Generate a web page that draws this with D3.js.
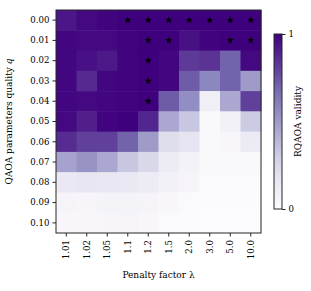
<!DOCTYPE html>
<html>
<head>
<meta charset="utf-8">
<script src="https://cdn.jsdelivr.net/npm/d3@7"></script>
<style>
  body { margin: 0; background: #fff; }
  svg text { font-family: "DejaVu Serif", serif; fill: #000; }
</style>
</head>
<body>
<svg width="311" height="291"></svg>
<script>
// penalty factors (columns) and parameter quality (rows)
const lambdas = ["1.01", "1.02", "1.05", "1.1", "1.2", "1.5", "2.0", "3.0", "5.0", "10.0"];
const qualities = ["0.00", "0.01", "0.02", "0.03", "0.04", "0.05", "0.06", "0.07", "0.08", "0.09", "0.10"];

// RQAOA validity, one row per quality
const validity = [
  [0.93, 0.97, 0.99, 1.00, 1.00, 1.00, 1.00, 1.00, 1.00, 1.00],
  [0.98, 0.97, 0.97, 0.99, 1.00, 1.00, 0.95, 0.99, 1.00, 1.00],
  [0.98, 0.95, 0.92, 0.99, 1.00, 0.98, 0.82, 0.84, 0.70, 0.97],
  [0.98, 0.87, 0.98, 0.99, 1.00, 0.98, 0.72, 0.58, 0.70, 0.50],
  [0.98, 0.97, 0.98, 0.99, 1.00, 0.72, 0.55, 0.10, 0.45, 0.80],
  [0.97, 0.90, 0.99, 1.00, 0.88, 0.45, 0.33, 0.03, 0.09, 0.31],
  [0.86, 0.80, 0.80, 0.70, 0.50, 0.22, 0.18, 0.03, 0.04, 0.14],
  [0.47, 0.53, 0.45, 0.33, 0.25, 0.13, 0.08, 0.03, 0.03, 0.03],
  [0.15, 0.17, 0.16, 0.15, 0.13, 0.09, 0.06, 0.02, 0.02, 0.02],
  [0.06, 0.05, 0.07, 0.07, 0.06, 0.04, 0.02, 0.01, 0.01, 0.01],
  [0.04, 0.04, 0.05, 0.06, 0.04, 0.02, 0.01, 0.00, 0.00, 0.00]
];

// cells marked with a star: [quality, lambda]
const starred = [
  ["0.00", "1.1"], ["0.00", "1.2"], ["0.00", "1.5"], ["0.00", "2.0"], ["0.00", "3.0"], ["0.00", "5.0"], ["0.00", "10.0"],
  ["0.01", "1.2"], ["0.01", "1.5"], ["0.01", "5.0"], ["0.01", "10.0"],
  ["0.02", "1.2"], ["0.03", "1.2"], ["0.04", "1.2"]
];

const svg = d3.select("svg");
const margin = { top: 10, left: 56, right: 50, bottom: 58 };
const width = 205;
const height = 223;

const g = svg.append("g").attr("transform", `translate(${margin.left}, ${margin.top})`);

const x = d3.scaleBand().domain(lambdas).range([0, width]);
const y = d3.scaleBand().domain(qualities).range([0, height]);
const color = d3.scaleSequential(d3.interpolatePurples).domain([0, 1]);

const cells = [];
validity.forEach((row, i) => {
  row.forEach((v, j) => cells.push({ q: qualities[i], l: lambdas[j], v: v }));
});

g.selectAll(".cell")
  .data(cells)
  .enter().append("rect")
  .attr("class", "cell")
  .attr("x", d => x(d.l))
  .attr("y", d => y(d.q))
  .attr("width", x.bandwidth() + 0.5)
  .attr("height", y.bandwidth() + 0.5)
  .attr("fill", d => color(d.v));

const star = d3.symbol().type(d3.symbolStar).size(16);
g.selectAll(".star")
  .data(starred)
  .enter().append("path")
  .attr("class", "star")
  .attr("d", star)
  .attr("transform", d => `translate(${x(d[1]) + x.bandwidth() / 2}, ${y(d[0]) + y.bandwidth() / 2})`)
  .attr("fill", "#000");

// frame
g.append("rect")
  .attr("width", width)
  .attr("height", height)
  .attr("fill", "none")
  .attr("stroke", "#262626")
  .attr("stroke-width", 1);

function styleAxis(a) {
  a.select(".domain").remove();
  a.selectAll(".tick line").attr("stroke", "#262626");
  a.selectAll(".tick text").style("font-size", "8.6px");
}

g.append("g")
  .call(d3.axisLeft(y).tickSize(3.5).tickPadding(3))
  .call(styleAxis);

const xa = g.append("g")
  .attr("transform", `translate(0, ${height})`)
  .call(d3.axisBottom(x).tickSize(3.5).tickPadding(3))
  .call(styleAxis);
xa.selectAll(".tick text")
  .attr("transform", "rotate(-90)")
  .attr("text-anchor", "end")
  .attr("x", -7)
  .attr("y", 0)
  .attr("dy", "0.35em");

svg.append("text")
  .attr("x", margin.left + width / 2)
  .attr("y", 278)
  .attr("text-anchor", "middle")
  .style("font-size", "9px")
  .text("Penalty factor λ");

svg.append("text")
  .attr("transform", `translate(12, ${margin.top + height / 2}) rotate(-90)`)
  .attr("text-anchor", "middle")
  .style("font-size", "9px")
  .html("QAOA parameters quality <tspan font-style='italic'>q</tspan>");

// colorbar
const cbX = 274, cbY = 34, cbW = 8, cbH = 175;
const defs = svg.append("defs");
const grad = defs.append("linearGradient")
  .attr("id", "cbar")
  .attr("x1", 0).attr("y1", 1).attr("x2", 0).attr("y2", 0);
d3.range(0, 1.0001, 0.1).forEach(t => {
  grad.append("stop").attr("offset", t).attr("stop-color", color(t));
});
svg.append("rect")
  .attr("x", cbX).attr("y", cbY)
  .attr("width", cbW).attr("height", cbH)
  .attr("fill", "url(#cbar)")
  .attr("stroke", "#262626")
  .attr("stroke-width", 1);

const cbScale = d3.scaleLinear().domain([0, 1]).range([cbY + cbH, cbY]);
svg.append("g")
  .attr("transform", `translate(${cbX + cbW}, 0)`)
  .call(d3.axisRight(cbScale).tickValues([0, 1]).tickFormat(d3.format("d")).tickSize(3.5).tickPadding(3))
  .call(styleAxis);

svg.append("text")
  .attr("transform", `translate(301, ${cbY + cbH / 2}) rotate(-90)`)
  .attr("text-anchor", "middle")
  .style("font-size", "9px")
  .text("RQAOA validity");
</script>
</body>
</html>
